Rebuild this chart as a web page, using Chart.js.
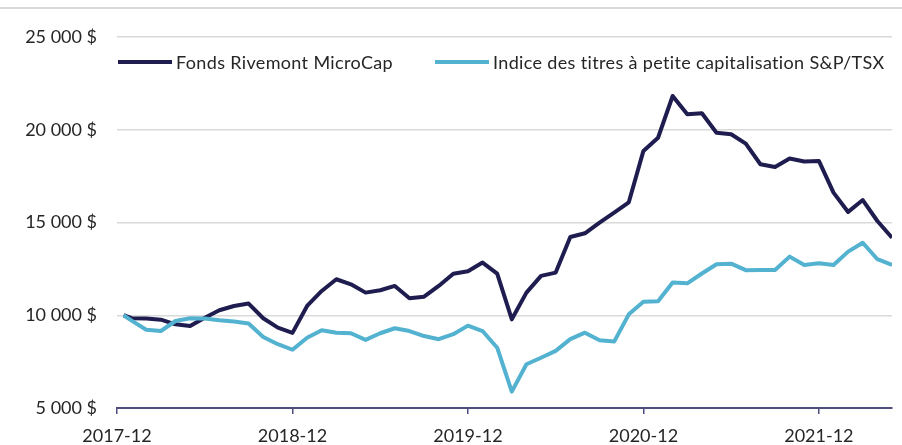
<!DOCTYPE html>
<html>
<head>
<meta charset="utf-8">
<script src="https://cdn.jsdelivr.net/npm/chart.js@4.4.1/dist/chart.umd.min.js"></script>
<style>
  html, body { margin: 0; padding: 0; background: #fff; }
  #wrap { width: 902px; height: 445px; }
</style>
</head>
<body>
<div id="wrap"><canvas id="chart" width="902" height="445"></canvas></div>
<script>
// periods: first point is the mid-January start, then month ends
var periods = ['2018-01-14',
  '2018-01','2018-02','2018-03','2018-04','2018-05','2018-06','2018-07','2018-08','2018-09','2018-10','2018-11','2018-12',
  '2019-01','2019-02','2019-03','2019-04','2019-05','2019-06','2019-07','2019-08','2019-09','2019-10','2019-11','2019-12',
  '2020-01','2020-02','2020-03','2020-04','2020-05','2020-06','2020-07','2020-08','2020-09','2020-10','2020-11','2020-12',
  '2021-01','2021-02','2021-03','2021-04','2021-05','2021-06','2021-07','2021-08','2021-09','2021-10','2021-11','2021-12',
  '2022-01','2022-02','2022-03','2022-04','2022-05'];

var fundValues = [10000,
  9840, 9820, 9760, 9510, 9420, 9870, 10270, 10500, 10630, 9840, 9330, 9050,
  10500, 11310, 11940, 11670, 11220, 11350, 11580, 10920, 11000, 11580, 12240, 12370,
  12840, 12240, 9780, 11220, 12120, 12300, 14220, 14420, 14990, 15530, 16090, 18860,
  19570, 21820, 20830, 20890, 19840, 19760, 19250, 18140, 17990, 18450, 18290, 18320,
  16610, 15570, 16210, 15080, 14180];

var indexValues = [10000,
  9710, 9220, 9150, 9690, 9840, 9820, 9730, 9660, 9550, 8830, 8440, 8140,
  8790, 9190, 9060, 9030, 8670, 9030, 9300, 9150, 8880, 8710, 8980, 9440,
  9150, 8250, 5880, 7360, 7710, 8080, 8710, 9060, 8650, 8580, 10050, 10730,
  10750, 11760, 11720, 12250, 12750, 12780, 12430, 12440, 12440, 13160, 12710, 12800,
  12710, 13430, 13910, 13020, 12710];

var seriesNames = ['Fonds Rivemont MicroCap', 'Indice des titres à petite capitalisation S&P/TSX'];
var seriesColors = ['#1f1d4f', '#52b2cf'];

var xTickLabels = ['2017-12', '2018-12', '2019-12', '2020-12', '2021-12'];
var yTicks = [5000, 10000, 15000, 20000, 25000];

var FONT = 'Lato, "Open Sans", sans-serif';
var FONT_SIZE = 18;
var TEXT = '#262626';

// months elapsed since the 2017-12 tick (2017-12 label = 0)
function toMonths(p) {
  var parts = p.split('-');
  var y = +parts[0], m = +parts[1];
  var base = (y - 2017) * 12 + (m - 12);
  if (parts[2]) return base - 1 + (+parts[2]) / 31;
  return base;
}

function fmtMoney(v) {
  return String(v).replace(/\B(?=(\d{3})+(?!\d))/g, ' ') + ' $';
}

function points(vals) {
  return vals.map(function (v, i) { return { x: toMonths(periods[i]), y: v }; });
}

var lastX = toMonths(periods[periods.length - 1]);
var tickXs = xTickLabels.map(toMonths);

var frame = {
  id: 'frame',
  beforeDraw: function (chart) {
    var c = chart.ctx;
    c.save();
    c.strokeStyle = '#d9d9d9';
    c.lineWidth = 2;
    c.beginPath();
    c.moveTo(0, 8);
    c.lineTo(chart.width, 8);
    c.stroke();
    c.restore();
  },
  afterDraw: function (chart) {
    // legend drawn inside the plot area, like the original
    var c = chart.ctx;
    c.save();
    c.font = FONT_SIZE + 'px ' + FONT;
    c.letterSpacing = '0.35px';
    c.textBaseline = 'middle';
    c.fillStyle = TEXT;
    var x = 118, y = 62;
    seriesNames.forEach(function (name, i) {
      c.strokeStyle = seriesColors[i];
      c.lineWidth = 4;
      c.beginPath();
      c.moveTo(x, y);
      c.lineTo(x + 54, y);
      c.stroke();
      c.fillText(name, x + 58, y + 1);
      x += 58 + c.measureText(name).width + 42;
    });
    c.restore();
  }
};

new Chart(document.getElementById('chart'), {
  type: 'line',
  data: {
    datasets: [
      { label: seriesNames[0], data: points(fundValues), borderColor: seriesColors[0], borderWidth: 4, pointRadius: 0, tension: 0, order: 2, borderJoinStyle: 'round' },
      { label: seriesNames[1], data: points(indexValues), borderColor: seriesColors[1], borderWidth: 4, pointRadius: 0, tension: 0, order: 1, borderJoinStyle: 'round' }
    ]
  },
  options: {
    responsive: false,
    animation: false,
    layout: { padding: { left: 0, top: 37, right: 10, bottom: 0 } },
    plugins: { legend: { display: false }, tooltip: { enabled: false } },
    scales: {
      x: {
        type: 'linear',
        min: 0,
        max: lastX,
        afterBuildTicks: function (s) { s.ticks = tickXs.map(function (v) { return { value: v }; }); },
        afterFit: function (s) { s.height = 37; },
        grid: { drawOnChartArea: false, drawTicks: true, tickLength: 6, color: '#4d4e7e', lineWidth: 1.5 },
        border: { display: true, color: '#4d4e7e', width: 2 },
        ticks: {
          autoSkip: false,
          maxRotation: 0,
          padding: 11,
          color: TEXT,
          font: { family: FONT, size: FONT_SIZE },
          callback: function (v) { var i = tickXs.indexOf(v); return i >= 0 ? xTickLabels[i] : ''; }
        }
      },
      y: {
        min: 5000,
        max: 25000,
        afterBuildTicks: function (s) { s.ticks = yTicks.map(function (v) { return { value: v }; }); },
        afterFit: function (s) { s.width = 117; },
        grid: { color: '#d9d9d9', lineWidth: 1.5, drawTicks: false },
        border: { display: false },
        ticks: {
          padding: 20,
          color: TEXT,
          font: { family: FONT, size: FONT_SIZE },
          callback: function (v) { return fmtMoney(v); }
        }
      }
    }
  },
  plugins: [frame]
});
</script>
</body>
</html>
